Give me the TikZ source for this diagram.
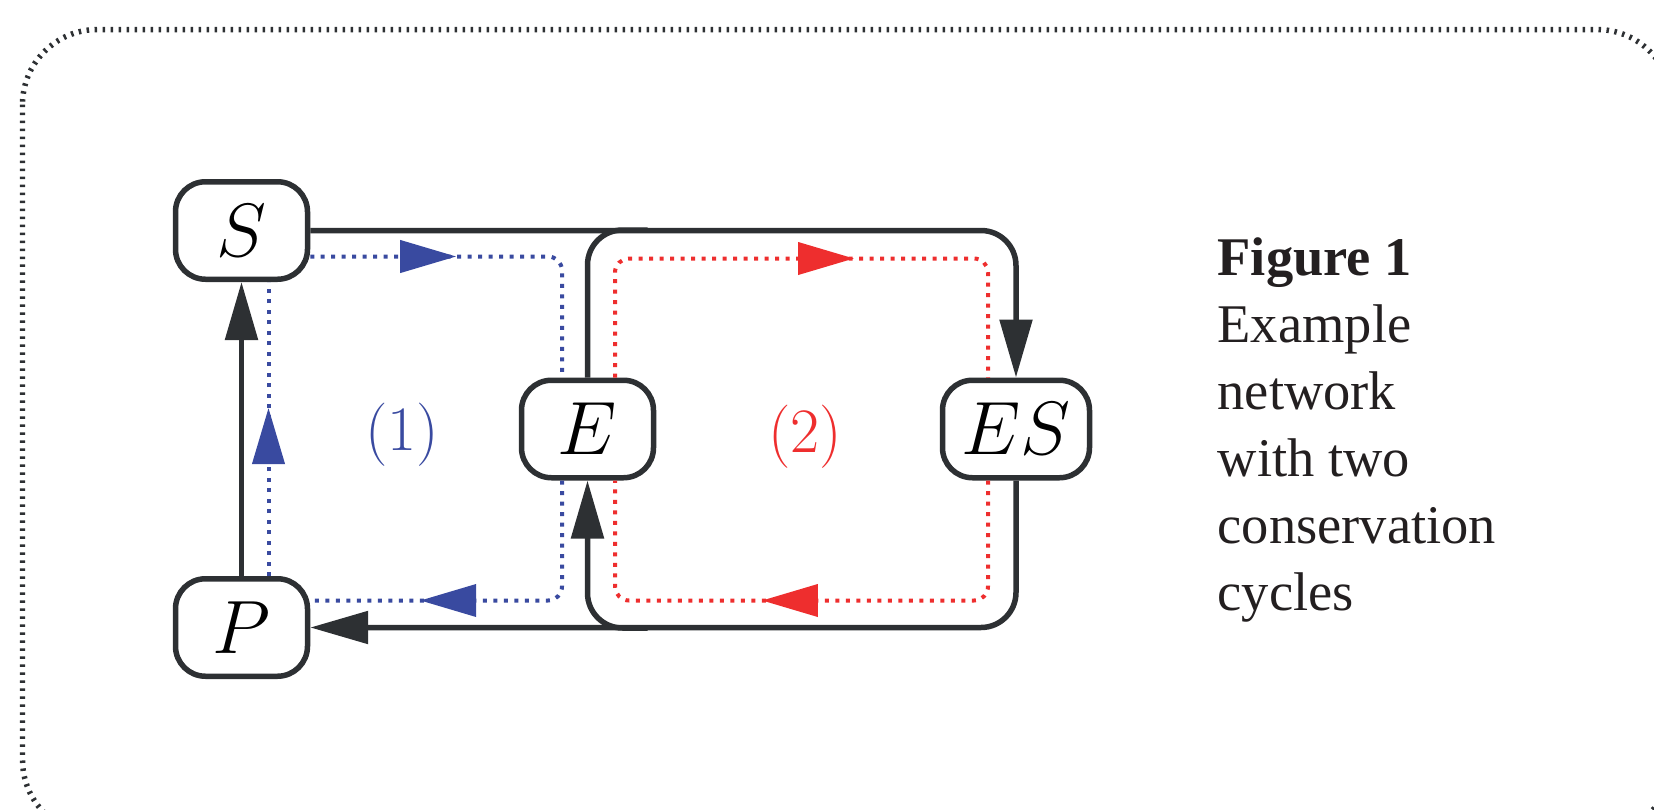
\RequirePackage{fix-cm}
\documentclass[tikz,border=0pt]{standalone}
\usepackage{fontspec}
\setmainfont{Liberation Serif}
\usetikzlibrary{arrows.meta,decorations.markings,calc}
\definecolor{ink}{RGB}{45,48,51}
\definecolor{captxt}{RGB}{35,31,32}
\definecolor{cblue}{RGB}{57,74,160}
\definecolor{cred}{RGB}{238,46,46}
\begin{document}
\begin{tikzpicture}[x=0.1mm,y=-0.1mm,
  species/.style={draw=ink, line width=0.55mm, rounded corners=3mm, fill=white,
    minimum height=9.75mm, inner sep=0pt, font=\fontsize{21.5}{26}\selectfont},
  rxn/.style={draw=ink, line width=0.55mm, rounded corners=3.5mm},
  tip/.style={-{Triangle[length=5.8mm,width=3.2mm]}},
  cyc/.style={line width=0.4mm, dash pattern=on 0.4mm off 0.65mm, rounded corners=1.4mm},
  midarrow/.style={postaction={decorate}, decoration={markings,
    mark=at position #1 with {\arrow{Triangle[length=5.6mm,width=3.2mm]}}}},
  frame/.style={draw=ink, line width=0.55mm, dash pattern=on 0.25mm off 0.55mm, rounded corners=7.5mm},
  cyclabel/.style={font=\fontsize{18}{22}\selectfont},
  caption/.style={anchor=base west, align=left, inner sep=0pt, text=captxt,
    font=\fontsize{15.5}{19.06}\selectfont}]
\useasboundingbox (0,0) rectangle (1654,810);
\begin{scope}
  \clip (0,0) rectangle (1654,810);
  \draw[frame] (22.5,29.5) rectangle (1672,835);
\end{scope}

% species
\node[species, minimum width=13.2mm] (S) at (241.5,230.5) {$S$};
\node[species, minimum width=13.2mm] (P) at (241.5,627.5) {$P$};
\node[species, minimum width=13.2mm] (E) at (587.5,429) {$E$};
\node[species, minimum width=14.7mm] (ES) at (1016,429) {$ES$};

% reactions (black)
\draw[rxn, tip] (P.north) -- (S.south);
\draw[rxn, tip] (S.east) -| (ES.north);
\draw[rxn] (E.north) |- ($(E.north)+(60,-147.5)$);
\draw[rxn, tip] (ES.south) |- (P.east);
\draw[rxn, tip] ($(E.south)+(60,147.5)$) -| (E.south);

% cycle (1), blue
\draw[cyc, cblue, midarrow=14.6mm] ($(S.east)+(0,26)$) -| ($(E.north)+(-25.5,0)$);
\draw[cyc, cblue, midarrow=-11mm] ($(E.south)+(-25.5,0)$) |- ($(P.east)+(0,-27)$);
\draw[cyc, cblue, midarrow=16.8mm] ($(P.north)+(27,0)$) -- ($(S.south)+(27,0)$);

% cycle (2), red
\draw[cyc, cred, midarrow=35.2mm] ($(E.north)+(27.5,0)$) -- ++(0,-119) -| ($(ES.north)+(-28,0)$);
\draw[cyc, cred, midarrow=34mm] ($(ES.south)+(-28,0)$) -- ++(0,120) -| ($(E.south)+(27.5,0)$);

% cycle labels
\node[cyclabel, text=cblue] (l1) at (402,435) {$(1)$};
\node[cyclabel, text=cred] (l2) at (805,437) {$(2)$};

% caption
\node[caption] (cap) at (1217,610) {\textbf{Figure 1}\\Example\\network\\with two\\conservation\\cycles};
\end{tikzpicture}
\end{document}
